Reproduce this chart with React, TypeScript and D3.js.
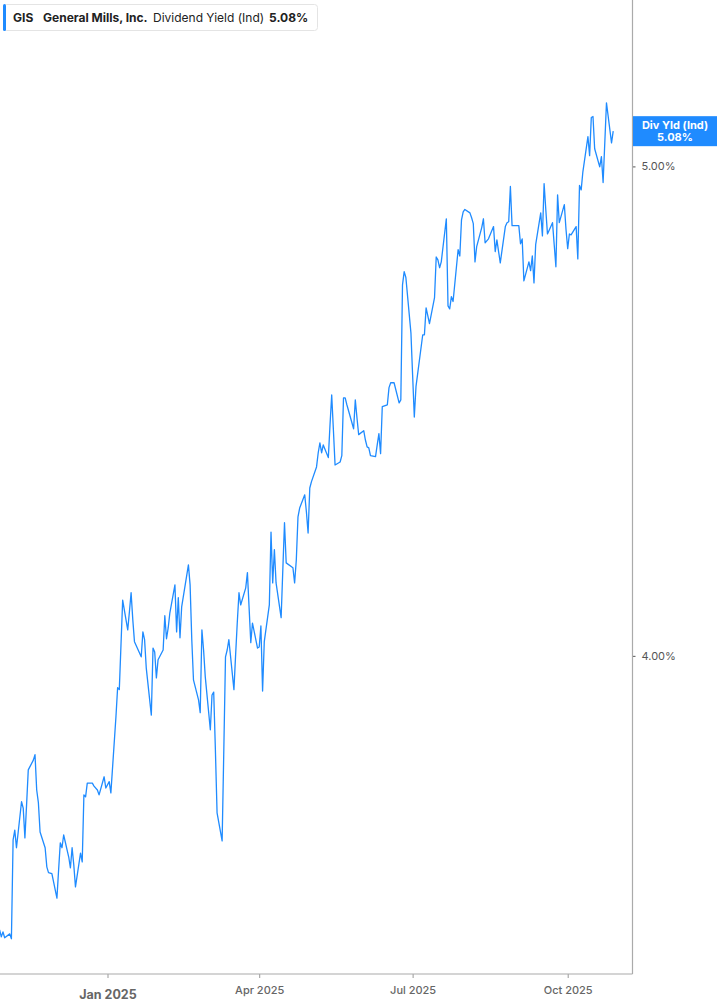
import React from "react";
import * as d3 from "d3";

const ticker = "GIS";
const company = "General Mills, Inc.";
const metric = "Dividend Yield (Ind)";
const badgeTitle = "Div Yld (Ind)";
const indicatedYield = 5.08;

const firstDay = new Date(2024, 9, 29);
const yDomain = [3.35, 5.34];
const yTicks = [4, 5];
const xTicks = [new Date(2025, 0, 1), new Date(2025, 3, 1), new Date(2025, 6, 1), new Date(2025, 9, 1)];

// market closed on these weekdays
const holidays = [
  "2024-11-28", "2024-12-25", "2025-01-01", "2025-01-09", "2025-01-20", "2025-02-17",
  "2025-04-18", "2025-05-26", "2025-06-19", "2025-07-04", "2025-09-01",
];

// dividend yield (%), one value per trading day
const yieldOct24 = [3.440, 3.426, 3.436];
const yieldNov24 = [3.424, 3.432, 3.422, 3.624, 3.644, 3.608, 3.702, 3.689, 3.628, 3.696, 3.767, 3.787, 3.798, 3.726, 3.700, 3.640, 3.608, 3.569, 3.557, 3.555];
const yieldDec24 = [3.505, 3.563, 3.618, 3.608, 3.634, 3.589, 3.567, 3.608, 3.573, 3.528, 3.597, 3.579, 3.716, 3.712, 3.740, 3.740, 3.734, 3.726, 3.716, 3.753, 3.730];
const yieldJan25 = [3.743, 3.720, 3.875, 3.935, 3.931, 4.114, 4.053, 4.090, 4.129, 4.074, 4.029, 3.998, 4.049, 4.033, 3.975, 3.879, 4.016, 4.008, 3.955, 3.992];
const yieldFeb25 = [4.012, 4.082, 4.035, 4.057, 4.088, 4.145, 4.049, 4.119, 4.037, 4.100, 4.186, 4.145, 4.033, 3.951, 3.910, 3.884, 4.053, 4.012, 3.957];
const yieldMar25 = [3.849, 3.920, 3.926, 3.808, 3.679, 3.622, 3.808, 3.998, 4.012, 4.033, 3.931, 4.002, 4.069, 4.129, 4.104, 4.139, 4.170, 4.098, 4.027, 4.067, 4.016];
const yieldApr25 = [4.018, 4.061, 3.928, 4.029, 4.104, 4.253, 4.149, 4.217, 4.149, 4.078, 4.176, 4.272, 4.190, 4.180, 4.149, 4.196, 4.284, 4.302, 4.329, 4.294, 4.251];
const yieldMay25 = [4.343, 4.356, 4.386, 4.415, 4.435, 4.415, 4.431, 4.405, 4.472, 4.533, 4.462, 4.390, 4.396, 4.409, 4.527, 4.527, 4.513, 4.464, 4.523, 4.486, 4.452];
const yieldJun25 = [4.460, 4.441, 4.427, 4.425, 4.409, 4.407, 4.431, 4.454, 4.413, 4.509, 4.513, 4.548, 4.558, 4.558, 4.517, 4.523, 4.758, 4.785, 4.773, 4.660];
const yieldJul25 = [4.574, 4.488, 4.550, 4.656, 4.656, 4.711, 4.695, 4.679, 4.732, 4.815, 4.809, 4.793, 4.805, 4.893, 4.715, 4.709, 4.734, 4.724, 4.830, 4.817, 4.891, 4.907];
const yieldAug25 = [4.912, 4.905, 4.895, 4.883, 4.805, 4.836, 4.875, 4.893, 4.844, 4.848, 4.852, 4.877, 4.826, 4.850, 4.826, 4.803, 4.877, 4.885, 4.887, 4.959, 4.879];
const yieldSep25 = [4.879, 4.842, 4.852, 4.766, 4.805, 4.787, 4.817, 4.762, 4.840, 4.905, 4.858, 4.965, 4.912, 4.862, 4.885, 4.840, 4.795, 4.942, 4.885, 4.922, 4.871];
const yieldOct25 = [4.832, 4.862, 4.860, 4.877, 4.811, 4.961, 4.952, 4.989, 5.061, 5.022, 5.100, 5.102, 5.036, 4.999, 5.020, 4.967, 5.048, 5.130, 5.048, 5.072];

const allYields = [
  ...yieldOct24, ...yieldNov24, ...yieldDec24, ...yieldJan25, ...yieldFeb25, ...yieldMar25,
  ...yieldApr25, ...yieldMay25, ...yieldJun25, ...yieldJul25, ...yieldAug25, ...yieldSep25, ...yieldOct25,
];

const fmtDay = d3.timeFormat("%Y-%m-%d");

function tradingDays(start, count) {
  const out = [];
  let d = new Date(start);
  while (out.length < count) {
    const wd = d.getDay();
    if (wd !== 0 && wd !== 6 && !holidays.includes(fmtDay(d))) out.push(new Date(d));
    d = d3.timeDay.offset(d, 1);
  }
  return out;
}

const W = 717;
const H = 1005;
const plotRight = 632.5;
const plotBottom = 974;
const blue = "#1f8bff";
const font = "Inter, 'Noto Sans', sans-serif";

const Chart = () => {
  const svgRef = React.useRef(null);

  React.useEffect(() => {
    const dates = tradingDays(firstDay, allYields.length);
    const data = allYields.map((v, i) => ({ date: dates[i], value: v }));
    const last = data[data.length - 1];

    // time scale anchored on the first and last quarter ticks
    const xScale = d3.scaleTime()
      .domain([xTicks[0], xTicks[xTicks.length - 1]])
      .range([107.5, 567.7]);
    const yScale = d3.scaleLinear().domain(yDomain).range([plotBottom, 0]);

    const svg = d3.select(svgRef.current);
    svg.selectAll("*").remove();
    svg.append("rect").attr("width", W).attr("height", H).attr("fill", "#fff");

    // the line
    const line = d3.line()
      .x((d) => xScale(d.date))
      .y((d) => yScale(d.value));
    svg.append("path")
      .datum(data)
      .attr("fill", "none")
      .attr("stroke", blue)
      .attr("stroke-width", 1.3)
      .attr("stroke-linejoin", "round")
      .attr("d", line);

    // bottom axis
    const xAxis = d3.axisBottom(xScale)
      .tickValues(xTicks)
      .tickSize(4)
      .tickPadding(8)
      .tickFormat(d3.timeFormat("%b %Y"));
    const xg = svg.append("g")
      .attr("transform", `translate(0,${plotBottom})`)
      .call(xAxis);
    xg.select(".domain").remove();
    xg.selectAll("line").attr("stroke", "#999");
    xg.selectAll("text")
      .attr("fill", "#666")
      .attr("font-family", font)
      .attr("font-size", 11)
      .attr("font-weight", 500);
    xg.selectAll(".tick")
      .filter((d) => d.getMonth() === 0)
      .select("text")
      .attr("font-size", 12.5)
      .attr("font-weight", 700)
      .attr("dy", "1.05em");
    svg.append("line")
      .attr("x1", 0).attr("x2", plotRight)
      .attr("y1", plotBottom).attr("y2", plotBottom)
      .attr("stroke", "#aaa").attr("stroke-width", 1.2);

    // right axis
    const yAxis = d3.axisRight(yScale)
      .tickValues(yTicks)
      .tickSize(3)
      .tickPadding(6)
      .tickFormat((d) => d3.format(".2f")(d) + "%");
    const yg = svg.append("g")
      .attr("transform", `translate(${plotRight},0)`)
      .call(yAxis);
    yg.select(".domain").remove();
    yg.selectAll("line").attr("stroke", "#555");
    yg.selectAll("text")
      .attr("fill", "#555")
      .attr("font-family", font)
      .attr("font-size", 11);
    svg.append("line")
      .attr("x1", plotRight).attr("x2", plotRight)
      .attr("y1", 0).attr("y2", plotBottom)
      .attr("stroke", "#aaa").attr("stroke-width", 1.2);

    // last value badge
    const ly = yScale(last.value);
    const bw = W - plotRight - 0.5;
    const badge = svg.append("g").attr("transform", `translate(${plotRight + 0.5},${ly - 15})`);
    badge.append("rect")
      .attr("width", bw)
      .attr("height", 30)
      .attr("fill", blue);
    badge.append("text")
      .attr("x", bw / 2).attr("y", 13)
      .attr("text-anchor", "middle")
      .attr("fill", "#fff")
      .attr("font-family", font)
      .attr("font-size", 11)
      .attr("font-weight", 700)
      .text(badgeTitle);
    badge.append("text")
      .attr("x", bw / 2).attr("y", 25)
      .attr("text-anchor", "middle")
      .attr("fill", "#fff")
      .attr("font-family", font)
      .attr("font-size", 11)
      .attr("font-weight", 700)
      .text(d3.format(".2f")(indicatedYield) + "%");

    // legend
    const lg = svg.append("g");
    lg.append("rect")
      .attr("x", 3.5).attr("y", 4.5)
      .attr("width", 314).attr("height", 26)
      .attr("rx", 3)
      .attr("fill", "#fff")
      .attr("stroke", "#e4e4e4");
    lg.append("rect")
      .attr("x", 3).attr("y", 4)
      .attr("width", 3).attr("height", 27)
      .attr("rx", 1.5)
      .attr("fill", blue);
    const legendItems = [
      { text: ticker, x: 13, weight: 700 },
      { text: company, x: 43, weight: 700 },
      { text: metric, x: 153, weight: 400 },
      { text: d3.format(".2f")(indicatedYield) + "%", x: 269, weight: 700 },
    ];
    lg.selectAll("text.item")
      .data(legendItems)
      .enter()
      .append("text")
      .attr("class", "item")
      .attr("x", (d) => d.x)
      .attr("y", 21.5)
      .attr("fill", "#222")
      .attr("font-family", font)
      .attr("font-size", 12)
      .attr("font-weight", (d) => d.weight)
      .text((d) => d.text);
  }, []);

  return (
    <div style={{ position: "absolute", left: 0, top: 0 }}>
      <svg ref={svgRef} width={W} height={H} style={{ display: "block" }} />
    </div>
  );
};

export default function App() {
  return <Chart />;
}
